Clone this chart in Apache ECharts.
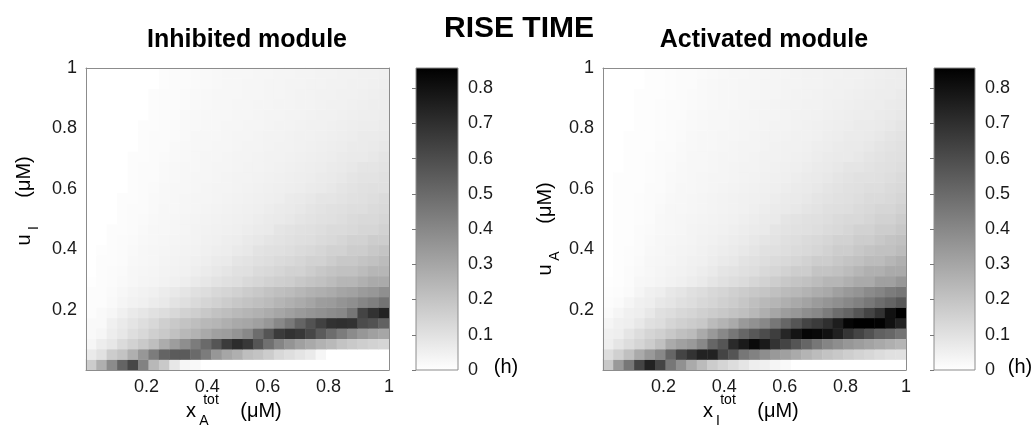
<!DOCTYPE html>
<html><head><meta charset="utf-8">
<script src="https://cdn.jsdelivr.net/npm/echarts@6/dist/echarts.min.js"></script>
<style>html,body{margin:0;padding:0;background:#fff}#c{width:1035px;height:438px}</style>
</head><body><div id="c"></div>
<script>
// grid resolution of both maps (cells per axis)
const cellCount = 29;
const axisTicks = [0.2, 0.4, 0.6, 0.8, 1];
const colorTicks = [0, 0.1, 0.2, 0.3, 0.4, 0.5, 0.6, 0.7, 0.8];
const colorMax = 0.857;
const titles = ['RISE TIME', 'Inhibited module', 'Activated module'];

// rise time in thousandths of an hour; row 0 = bottom (u smallest), col 0 = left (x smallest)
const riseInhibited = [
[170,270,390,520,620,420,240,180,80,30,20,0,0,0,0,0,0,0,0,0,0,0,0,0,0,0,0,0,0],
[70,100,170,200,270,350,440,520,550,550,500,440,350,300,270,220,200,170,130,110,90,70,30,0,0,0,0,0,0],
[30,60,80,120,150,180,220,280,330,380,440,500,570,660,710,670,570,480,410,360,320,290,260,235,200,180,165,150,140],
[20,30,60,80,110,130,160,180,210,240,260,290,320,330,360,400,490,570,660,690,670,620,550,490,440,390,350,320,300],
[20,20,50,70,90,110,130,160,180,200,220,240,250,270,290,300,320,350,400,450,520,580,640,690,700,690,600,580,530],
[10,20,30,50,70,85,100,115,130,150,165,185,205,220,235,250,262,280,300,320,340,355,370,385,400,460,630,690,740],
[10,10,20,34,43,52,65,75,94,107,123,140,154,170,189,203,214,230,248,267,283,302,330,335,360,375,405,430,470],
[10,10,18,28,36,44,52,65,75,86,103,115,131,140,154,170,184,203,214,225,243,258,268,283,303,313,335,350,375],
[5,10,13,20,28,33,38,45,50,56,70,80,93,105,112,128,138,150,160,168,185,197,210,225,245,245,265,285,285],
[0,10,12,18,26,30,35,40,45,48,56,66,78,86,100,105,120,128,138,150,150,168,185,197,210,210,225,245,245],
[0,10,10,15,23,28,31,37,40,45,50,56,66,72,86,93,105,112,120,128,138,150,150,168,185,185,197,210,225],
[0,8,10,13,20,26,30,33,37,42,45,50,56,60,72,78,93,100,105,112,120,128,138,150,150,168,168,185,197],
[0,0,10,13,18,23,28,31,35,38,42,47,50,56,60,72,78,86,93,100,108,112,120,128,138,150,150,168,168],
[0,0,10,10,15,20,26,28,31,35,40,43,47,50,53,60,66,72,86,93,100,105,112,120,122,128,138,138,150],
[0,0,0,10,13,18,23,28,30,33,37,40,43,47,50,53,60,66,72,78,86,93,100,105,112,120,128,128,138],
[0,0,0,10,13,15,20,26,28,31,35,37,40,43,47,50,53,60,66,72,78,86,93,100,105,112,112,120,128],
[0,0,0,10,10,15,20,23,28,30,33,35,38,42,43,47,50,53,56,66,72,78,86,86,93,100,105,112,120],
[0,0,0,0,10,15,18,23,26,28,31,33,37,38,42,45,47,50,53,56,60,66,72,78,86,93,100,105,105],
[0,0,0,0,10,13,15,20,23,28,30,31,35,37,40,42,45,47,50,53,56,60,66,72,78,86,93,93,100],
[0,0,0,0,10,13,15,20,23,26,28,30,33,35,38,40,42,45,47,50,53,56,60,66,72,78,86,86,93],
[0,0,0,0,10,10,15,18,20,23,28,30,31,33,37,38,40,43,45,47,50,53,56,60,66,72,72,78,86],
[0,0,0,0,0,10,13,15,20,23,26,28,30,31,35,37,38,42,43,45,47,50,53,56,60,66,66,72,78],
[0,0,0,0,0,10,13,15,18,20,26,26,28,31,33,35,37,40,42,43,47,48,50,53,56,60,66,66,72],
[0,0,0,0,0,10,10,15,18,20,23,26,28,30,31,33,35,38,40,42,43,47,48,50,53,56,60,60,66],
[0,0,0,0,0,0,10,13,15,20,23,26,26,28,30,31,35,37,38,40,42,43,47,48,50,53,56,56,60],
[0,0,0,0,0,0,10,13,15,18,20,23,26,28,30,31,33,35,37,38,40,42,45,47,48,50,53,56,56],
[0,0,0,0,0,0,10,13,15,18,20,23,26,26,28,30,31,33,35,37,40,42,43,45,47,48,50,53,56],
[0,0,0,0,0,0,0,10,13,15,18,20,23,26,28,30,31,33,35,37,38,40,42,43,45,47,48,50,53],
[0,0,0,0,0,0,0,10,13,15,18,20,23,26,26,28,30,31,33,35,37,38,40,42,43,45,47,48,50]
];

const riseActivated = [
[185,343,457,628,743,628,457,370,286,228,171,141,114,87,57,50,34,20,0,0,0,0,0,0,0,0,0,0,0],
[114,158,212,286,343,400,514,628,685,743,743,628,571,457,420,380,343,319,286,252,225,202,185,165,148,134,118,104,100],
[57,87,114,141,171,212,286,319,343,400,514,571,716,770,823,770,685,628,571,514,457,410,380,350,330,310,290,270,250],
[50,57,87,114,141,158,185,212,228,286,343,400,457,514,560,600,650,730,790,840,830,800,750,680,630,580,530,510,470],
[34,50,57,77,104,114,141,158,171,185,228,255,286,343,370,400,457,514,571,628,660,700,760,840,857,857,850,800,743],
[17,34,50,57,77,104,114,131,141,158,171,185,200,215,240,270,300,330,350,380,400,440,490,520,570,630,690,800,857],
[10,17,34,50,57,77,87,104,114,131,141,158,171,190,215,235,250,270,290,310,335,355,375,400,425,455,490,520,560],
[7,10,17,34,50,57,77,87,104,114,131,141,158,171,185,195,212,228,240,255,275,290,319,343,360,390,410,440,460],
[3,8,15,26,31,37,43,50,60,72,86,100,112,120,138,150,168,185,197,210,225,245,245,265,285,285,320,320,350],
[0,8,13,20,28,33,40,45,50,60,72,86,93,105,112,128,138,150,168,168,197,197,210,225,245,265,265,285,285],
[0,8,10,18,26,30,35,40,47,50,60,72,78,93,100,112,120,128,138,150,168,168,185,197,210,225,225,245,265],
[0,8,10,15,23,28,33,37,42,47,53,60,66,78,86,100,105,112,120,128,138,150,168,168,185,197,210,210,225],
[0,8,8,15,20,26,30,35,38,43,47,53,60,66,78,86,93,105,112,120,128,138,150,150,168,168,185,197,210],
[0,8,8,13,18,23,28,31,37,40,43,48,53,60,66,72,86,93,100,105,112,120,128,138,150,150,168,168,185],
[0,8,8,10,15,23,26,30,33,37,42,45,48,53,60,66,72,86,93,100,105,112,120,128,128,138,150,150,168],
[0,8,8,10,15,20,26,28,31,35,38,42,45,48,53,60,66,72,78,86,93,105,108,112,120,128,138,138,150],
[0,8,8,10,13,18,23,26,30,33,37,40,43,47,50,53,60,66,72,78,86,93,100,105,112,120,122,128,138],
[0,8,8,8,13,15,20,26,28,31,35,37,40,43,47,50,53,60,66,72,78,86,93,100,105,112,112,120,128],
[0,8,8,8,10,15,20,23,28,30,33,35,38,42,45,47,50,53,60,66,72,78,86,93,100,100,105,112,120],
[0,0,8,8,10,15,18,23,26,28,31,33,37,40,42,45,47,50,53,60,66,72,78,86,86,93,100,105,112],
[0,0,8,8,10,13,18,20,26,28,30,33,35,38,40,43,45,48,50,53,60,66,72,72,78,86,93,100,105],
[0,0,8,8,8,13,15,20,23,26,28,31,33,37,38,42,43,47,48,50,56,60,66,72,72,78,86,93,100],
[0,0,8,8,8,10,15,18,23,26,28,30,31,35,37,40,42,43,47,48,50,56,60,66,66,72,78,86,93],
[0,0,0,8,8,10,15,18,20,23,26,28,31,33,35,38,40,42,45,47,50,53,56,60,66,66,72,78,86],
[0,0,0,8,8,10,13,15,20,23,26,28,30,31,33,37,38,40,43,45,47,50,53,56,60,60,66,72,78],
[0,0,0,8,8,10,13,15,18,20,24,26,28,31,33,35,37,40,42,43,45,47,50,53,56,60,60,66,72],
[0,0,0,8,8,8,10,15,18,20,23,26,28,30,31,33,35,38,40,42,43,47,48,50,53,56,60,60,66],
[0,0,0,0,8,8,10,13,15,20,23,26,28,30,30,33,35,37,38,40,42,45,47,48,50,53,56,60,60],
[0,0,0,0,8,8,10,13,15,18,20,23,26,28,30,31,33,35,37,40,42,43,45,47,48,50,53,56,60]
];

const FONT = '"Liberation Sans", Arial, Helvetica, sans-serif';
const TXT = '#1a1a1a';
const FRAME = '#8c8c8c';
const cellCenters = Array.from({length: cellCount}, (_, i) => ((i + 0.5) / cellCount).toFixed(3));

function toCells(rows) {
  const out = [];
  rows.forEach((row, r) => row.forEach((v, c) => out.push([c, r, v / 1000])));
  return out;
}
function tickFmt(v) {
  const hit = axisTicks.find(t => Math.abs(t - v) < 1e-6);
  if (hit === undefined) return '';
  return hit === 1 ? '1' : hit.toFixed(1);
}
function cbFmt(v) {
  const hit = colorTicks.find(t => Math.abs(t - v) < 1e-6);
  if (hit === undefined) return '';
  return hit === 0 ? '0' : hit.toFixed(1);
}
const gradient = {type: 'linear', x: 0, y: 0, x2: 0, y2: 1,
  colorStops: [{offset: 0, color: '#000000'}, {offset: 1, color: '#ffffff'}]};

function frameCat(gridIndex, pos) {
  return {gridIndex, type: 'category', data: cellCenters, position: pos,
    axisLine: {show: true, onZero: false, lineStyle: {color: FRAME, width: 1}},
    axisTick: {show: false}, axisLabel: {show: false}, splitLine: {show: false}, z: 5};
}
function valueAxis(gridIndex, pos, margin) {
  return {gridIndex, type: 'value', min: 0, max: 1, interval: 0.2, position: pos,
    axisLine: {show: true, onZero: false, lineStyle: {color: FRAME, width: 1}},
    axisTick: {show: false}, splitLine: {show: false},
    axisLabel: {fontSize: 18, color: TXT, fontFamily: FONT, margin, formatter: tickFmt}, z: 5};
}
function cbAxis(gridIndex) {
  return {gridIndex, type: 'value', min: 0, max: colorMax, interval: 0.1, position: 'right',
    axisLine: {show: false}, splitLine: {show: false},
    axisTick: {show: true, inside: true, length: 4, lineStyle: {color: '#777'}},
    axisLabel: {fontSize: 18, color: TXT, fontFamily: FONT, margin: 10, formatter: cbFmt, showMaxLabel: false}};
}
function hiddenX(gridIndex) {
  return {gridIndex, type: 'value', min: 0, max: 1, show: false};
}

function t(text, x, y, size, o = {}) {
  return {type: 'text', x, y, rotation: o.rot || 0, z: 10,
    style: {text, fontSize: size, fontWeight: o.bold ? 'bold' : 'normal', fontFamily: FONT, fill: '#000',
      align: o.align || 'center', verticalAlign: 'middle',
      textAlign: o.align || 'center', textVerticalAlign: 'middle'}};
}
const R = Math.PI / 2;

const option = {
  animation: false,
  backgroundColor: '#ffffff',
  grid: [
    {left: 86, top: 68, width: 303, height: 302},
    {left: 416, top: 68, width: 42, height: 302, show: true, borderColor: FRAME, borderWidth: 1, backgroundColor: gradient},
    {left: 603, top: 68, width: 303, height: 302},
    {left: 934, top: 68, width: 41, height: 302, show: true, borderColor: FRAME, borderWidth: 1, backgroundColor: gradient}
  ],
  xAxis: [frameCat(0, 'top'), valueAxis(0, 'bottom', 8), frameCat(2, 'top'), valueAxis(2, 'bottom', 8), hiddenX(1), hiddenX(3)],
  yAxis: [frameCat(0, 'right'), valueAxis(0, 'left', 9), frameCat(2, 'right'), valueAxis(2, 'left', 9), cbAxis(1), cbAxis(3)],
  visualMap: [
    {type: 'continuous', seriesIndex: 0, min: 0, max: colorMax, show: false, inRange: {color: ['#ffffff', '#000000']}},
    {type: 'continuous', seriesIndex: 1, min: 0, max: colorMax, show: false, inRange: {color: ['#ffffff', '#000000']}}
  ],
  series: [
    {type: 'heatmap', xAxisIndex: 0, yAxisIndex: 0, data: toCells(riseInhibited), progressive: 0, emphasis: {disabled: true}},
    {type: 'heatmap', xAxisIndex: 2, yAxisIndex: 2, data: toCells(riseActivated), progressive: 0, emphasis: {disabled: true}}
  ],
  graphic: [
    t(titles[0], 519, 29, 30, {bold: true}),
    t(titles[1], 247, 40, 25, {bold: true}),
    t(titles[2], 764, 40, 25, {bold: true}),
    // left y label: u_I (μM)
    t('u', 24, 240, 20, {rot: R}),
    t('I', 34, 228, 14, {rot: R}),
    t('(μM)', 24, 177, 20, {rot: R}),
    // right y label: u_A (μM)
    t('u', 545, 270, 20, {rot: R}),
    t('A', 555, 256, 14, {rot: R}),
    t('(μM)', 545, 203, 20, {rot: R}),
    // left x label
    t('x', 191, 411, 20),
    t('tot', 211, 400, 14),
    t('A', 204, 421, 14),
    t('(μM)', 261, 411, 20),
    // right x label
    t('x', 708, 411, 20),
    t('tot', 728, 400, 14),
    t('I', 718, 421, 14),
    t('(μM)', 778, 411, 20),
    // colorbar units
    t('(h)', 506, 367, 20),
    t('(h)', 1020, 367, 20)
  ]
};
const chart = echarts.init(document.getElementById('c'), null, {renderer: 'canvas'});
chart.setOption(option);
</script>
</body></html>
